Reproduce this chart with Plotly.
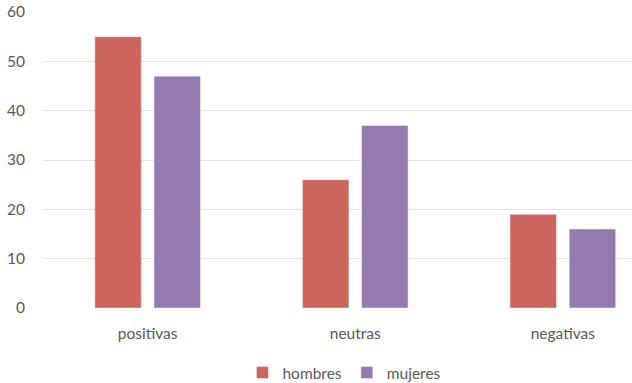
import plotly.graph_objects as go

categories = ["positivas", "neutras", "negativas"]
hombres = [55, 26, 19]
mujeres = [47, 37, 16]
y_ticks = [0, 10, 20, 30, 40, 50, 60]

x_pos = list(range(len(categories)))
font_family = "Lato, 'Open Sans', sans-serif"
text_color = "#595959"

# each bar is 0.224 category units wide, with a small gap inside the pair
bar_w = 0.224
pair_gap = 0.061

fig = go.Figure()
fig.add_trace(go.Bar(
    x=x_pos, y=hombres, name="hombres",
    width=bar_w, offset=-(bar_w + pair_gap / 2),
    marker=dict(color="#CC655B", line=dict(color="rgba(255,255,255,0.45)", width=1)),
))
fig.add_trace(go.Bar(
    x=x_pos, y=mujeres, name="mujeres",
    width=bar_w, offset=pair_gap / 2,
    marker=dict(color="#937AB1", line=dict(color="rgba(255,255,255,0.45)", width=1)),
))

fig.update_layout(
    width=632, height=383,
    margin=dict(l=43, r=0, t=12, b=75, autoexpand=False),
    paper_bgcolor="white", plot_bgcolor="white",
    barmode="overlay",
    font=dict(family=font_family, size=15.5, color=text_color),
    showlegend=True,
    legend=dict(
        orientation="h", xref="container", x=0.545, xanchor="center",
        yref="container", y=0.026, yanchor="middle",
        font=dict(size=15.5, color=text_color), itemwidth=30,
        traceorder="normal",
    ),
)
fig.update_xaxes(
    range=[-0.504, 2.333],
    tickvals=x_pos, ticktext=categories,
    ticks="outside", ticklen=11, tickcolor="rgba(0,0,0,0)",
    showgrid=False, zeroline=False, showline=False,
    tickfont=dict(size=15.5, color=text_color),
)
fig.update_yaxes(
    range=[0, 60], tickvals=y_ticks,
    showgrid=True, gridcolor="#E4E4E4", gridwidth=1.3,
    zeroline=False, showline=False,
    ticks="outside", ticklen=14, tickcolor="rgba(0,0,0,0)",
    tickfont=dict(size=15.5, color=text_color),
)

fig.write_html("out.html")
